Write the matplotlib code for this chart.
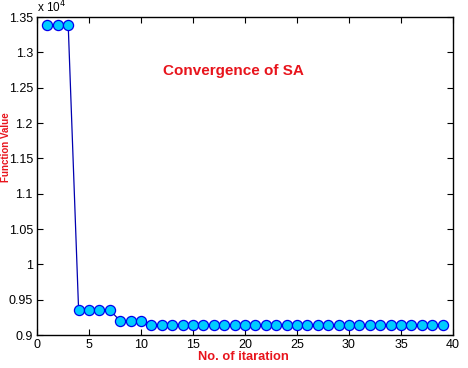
import matplotlib
matplotlib.use('Agg')
import matplotlib.pyplot as plt
import numpy as np

plt.rcParams['font.family'] = ['Liberation Sans', 'DejaVu Sans']

# convergence values per iteration
iterations = list(range(1, 40))
values = ([13390] * 3 + [9354] * 4 + [9198] * 3 + [9148] * 5 + [9140] * 24)

fig = plt.figure(figsize=(4.68, 3.68), dpi=100)
ax = fig.add_axes([37 / 468, 1 - 335 / 368, (453 - 37) / 468, (335 - 17) / 368])

ax.plot(iterations, np.array(values) / 1e4, '-o', color='#0000b0', lw=0.9,
        markerfacecolor='#00ccff', markeredgecolor='#0000ee', markersize=7.3, markeredgewidth=0.9)

ax.set_xlim(0, 40)
ax.set_ylim(0.9, 1.35)
ax.set_xticks(range(0, 41, 5))
ax.set_yticks([0.9, 0.95, 1, 1.05, 1.1, 1.15, 1.2, 1.25, 1.3, 1.35])
ax.set_yticklabels(['0.9', '0.95', '1', '1.05', '1.1', '1.15', '1.2', '1.25', '1.3', '1.35'])
ax.tick_params(direction='in', top=True, right=True, labelsize=9, length=4, pad=3)
for s in ax.spines.values():
    s.set_linewidth(1.0)

fig.text(37 / 468, 1 - 15 / 368, r'x 10$^4$', fontsize=8.5, ha='left', va='bottom')
fig.text(233 / 468, 1 - 71 / 368, 'Convergence of SA', color='#e8141c',
         fontsize=11, fontweight='bold', ha='center', va='center')
fig.text(6 / 468, 1 - 147 / 368, 'Function Value', rotation=90, color='#e8141c',
         fontsize=7, fontweight='bold', ha='center', va='center')
fig.text(243 / 468, 1 - 357 / 368, 'No. of itaration', color='#e8141c',
         fontsize=9.3, fontweight='bold', ha='center', va='center')

fig.savefig('out.png', dpi=100, facecolor='white')
